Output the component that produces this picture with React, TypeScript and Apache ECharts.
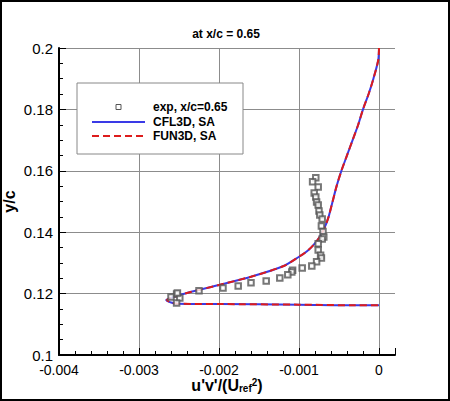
import { useEffect, useRef } from 'react';
import * as echarts from 'echarts';

const FONT = '"Liberation Sans", Arial, Helvetica, sans-serif';

const seriesNames = ['exp, x/c=0.65', 'CFL3D, SA', 'FUN3D, SA'];
const seriesColors = ['#555555', '#3a3ae6', '#dd1c1c'];

// measured Reynolds stress, [u'v'/Uref^2, y/c]
const expPoints: [number, number][] = [
  [-0.00079, 0.1577], [-0.00083, 0.1564], [-0.00076, 0.1547], [-0.00081, 0.1528],
  [-0.00079, 0.1515], [-0.00078, 0.1498], [-0.00076, 0.1489], [-0.00075, 0.1469],
  [-0.00074, 0.1456], [-0.00071, 0.1443], [-0.00072, 0.142], [-0.0007, 0.1402],
  [-0.00069, 0.1384], [-0.00071, 0.1378], [-0.00076, 0.1362], [-0.00076, 0.1342],
  [-0.00073, 0.1325], [-0.00072, 0.1316], [-0.00078, 0.1304], [-0.00084, 0.129],
  [-0.00096, 0.1283], [-0.00108, 0.1276], [-0.00109, 0.127], [-0.00114, 0.1261],
  [-0.00124, 0.1251], [-0.00141, 0.1241], [-0.0016, 0.1235], [-0.00176, 0.1225],
  [-0.00195, 0.1218], [-0.00225, 0.1209], [-0.00253, 0.1199], [-0.0026, 0.1189],
  [-0.00249, 0.1186], [-0.00253, 0.1169], [-0.00252, 0.1202],
];

const cfl3dCurve: [number, number][] = [
  [0, 0.2], [-0.00001, 0.196], [-0.00007, 0.19], [-0.00013, 0.185], [-0.0002, 0.18],
  [-0.00026, 0.175], [-0.00033, 0.17], [-0.0004, 0.165], [-0.00047, 0.16],
  [-0.00053, 0.155], [-0.00058, 0.15], [-0.00063, 0.145], [-0.00068, 0.1415],
  [-0.00074, 0.1385], [-0.00082, 0.1358], [-0.0009, 0.1338], [-0.001, 0.132],
  [-0.0012, 0.1289], [-0.0016, 0.1255], [-0.002, 0.1228], [-0.0024, 0.1202],
  [-0.00257, 0.1189], [-0.00266, 0.1179], [-0.0026, 0.1171], [-0.00252, 0.1167],
  [-0.002, 0.1166], [-0.001, 0.1164], [-0.0003, 0.1162], [0, 0.1162],
];

const fun3dCurve: [number, number][] = [
  [0, 0.2], [-0.00001, 0.196], [-0.00007, 0.19], [-0.00013, 0.185], [-0.0002, 0.18],
  [-0.00026, 0.175], [-0.00033, 0.17], [-0.0004, 0.165], [-0.00047, 0.16],
  [-0.00053, 0.155], [-0.00058, 0.15], [-0.00063, 0.145], [-0.00068, 0.1415],
  [-0.00074, 0.1385], [-0.00082, 0.1358], [-0.0009, 0.1338], [-0.001, 0.132],
  [-0.0012, 0.1289], [-0.0016, 0.1255], [-0.002, 0.1228], [-0.0024, 0.1202],
  [-0.00256, 0.1189], [-0.00265, 0.1179], [-0.0026, 0.1171], [-0.00252, 0.1167],
  [-0.002, 0.1166], [-0.001, 0.1164], [-0.0003, 0.1162], [0, 0.1162],
];

const fmt = (v: number) => String(+v.toFixed(4));

// hand-drawn legend box, Tecplot style
function legendGraphic() {
  const x0 = 77;
  const y0 = 83;
  const rowY = [24, 39, 53].map((d) => y0 + d);
  const z = 100;
  const text = (i: number) => ({
    type: 'text',
    z,
    x: x0 + 76,
    y: rowY[i],
    style: {
      text: seriesNames[i],
      fontFamily: FONT,
      fontSize: 12,
      fontWeight: 'bold',
      fill: '#000',
      verticalAlign: 'middle',
    },
  });
  return [
    {
      type: 'rect',
      z,
      shape: { x: x0, y: y0, width: 166, height: 71 },
      style: { fill: '#fff', stroke: '#888', lineWidth: 1 },
    },
    {
      type: 'rect',
      z,
      shape: { x: x0 + 39, y: rowY[0] - 2.5, width: 5, height: 5 },
      style: { fill: '#fff', stroke: seriesColors[0], lineWidth: 1 },
    },
    {
      type: 'line',
      z,
      shape: { x1: x0 + 15, y1: rowY[1], x2: x0 + 68, y2: rowY[1] },
      style: { stroke: seriesColors[1], lineWidth: 2 },
    },
    {
      type: 'line',
      z,
      shape: { x1: x0 + 15, y1: rowY[2], x2: x0 + 68, y2: rowY[2] },
      style: { stroke: seriesColors[2], lineWidth: 2, lineDash: [7, 4] },
    },
    text(0),
    text(1),
    text(2),
  ];
}

export default function App() {
  const chartRef = useRef<HTMLDivElement>(null);

  useEffect(() => {
    document.body.style.margin = '0';
    if (!chartRef.current) return;
    const chart = echarts.init(chartRef.current, undefined, { renderer: 'svg' });

    chart.setOption({
      animation: false,
      backgroundColor: '#fff',
      title: {
        text: 'at x/c = 0.65',
        left: 221,
        textAlign: 'center',
        top: 23,
        textStyle: { fontFamily: FONT, fontSize: 12, fontWeight: 'bold', color: '#000' },
      },
      grid: { left: 59, right: 55, top: 48, bottom: 46, containLabel: false, outerBoundsMode: 'none' },
      graphic: [
        {
          type: 'rect',
          shape: { x: 1, y: 1, width: 448, height: 399 },
          style: { fill: 'none', stroke: '#000', lineWidth: 2 },
          silent: true,
        },
        ...legendGraphic(),
      ],
      xAxis: {
        type: 'value',
        min: -0.004,
        max: 0.0002,
        interval: 0.001,
        name: "{a|u'v'/(U}{b|ref}{c|2}{a|)}",
        nameLocation: 'middle',
        nameGap: 22,
        nameMoveOverlap: false,
        nameTextStyle: {
          rich: {
            a: { fontFamily: FONT, fontSize: 16, fontWeight: 'bold', color: '#000', lineHeight: 16 },
            b: { fontFamily: FONT, fontSize: 10, fontWeight: 'bold', color: '#000', lineHeight: 0, verticalAlign: 'bottom' },
            c: { fontFamily: FONT, fontSize: 10, fontWeight: 'bold', color: '#000', lineHeight: 8, verticalAlign: 'top' },
          },
        },
        axisLine: { onZero: false, lineStyle: { color: '#000', width: 2 } },
        axisTick: { inside: true, length: 7, lineStyle: { color: '#000', width: 1 } },
        minorTick: { show: true, splitNumber: 5, length: 4, lineStyle: { color: '#000', width: 1 } },
        axisLabel: {
          margin: 8,
          showMaxLabel: false,
          fontFamily: FONT,
          fontSize: 14,
          lineHeight: 13,
          color: '#000',
          formatter: (v: number) => (v > 1e-9 ? '' : fmt(v)),
        },
        splitLine: { show: true, showMaxLine: false, lineStyle: { color: '#8c8c8c', width: 1 } },
      },
      yAxis: {
        type: 'value',
        min: 0.1,
        max: 0.2,
        interval: 0.02,
        name: 'y/c',
        nameLocation: 'middle',
        nameRotate: 90,
        nameGap: 42,
        nameMoveOverlap: false,
        nameTextStyle: { fontFamily: FONT, fontSize: 16, fontWeight: 'bold', color: '#000' },
        axisLine: { onZero: false, lineStyle: { color: '#000', width: 2 } },
        axisTick: { inside: true, length: 7, lineStyle: { color: '#000', width: 1 } },
        minorTick: { show: true, splitNumber: 4, length: 4, lineStyle: { color: '#000', width: 1 } },
        axisLabel: { margin: 6, fontFamily: FONT, fontSize: 15, lineHeight: 12, color: '#000', formatter: fmt },
        splitLine: { show: true, lineStyle: { color: '#8c8c8c', width: 1 } },
      },
      series: [
        {
          name: seriesNames[0],
          type: 'scatter',
          symbol: 'emptyRect',
          symbolSize: 5.5,
          z: 4,
          itemStyle: { color: seriesColors[0], borderColor: seriesColors[0], borderWidth: 1 },
          data: expPoints,
        },
        {
          name: seriesNames[1],
          type: 'line',
          showSymbol: false,
          symbol: 'none',
          smooth: 0.3,
          z: 2,
          lineStyle: { color: seriesColors[1], width: 2 },
          data: cfl3dCurve,
        },
        {
          name: seriesNames[2],
          type: 'line',
          showSymbol: false,
          symbol: 'none',
          smooth: 0.3,
          z: 3,
          lineStyle: { color: seriesColors[2], width: 2, type: [7, 4] },
          data: fun3dCurve,
        },
      ],
    });

    return () => chart.dispose();
  }, []);

  return <div ref={chartRef} style={{ width: 450, height: 401 }} />;
}
